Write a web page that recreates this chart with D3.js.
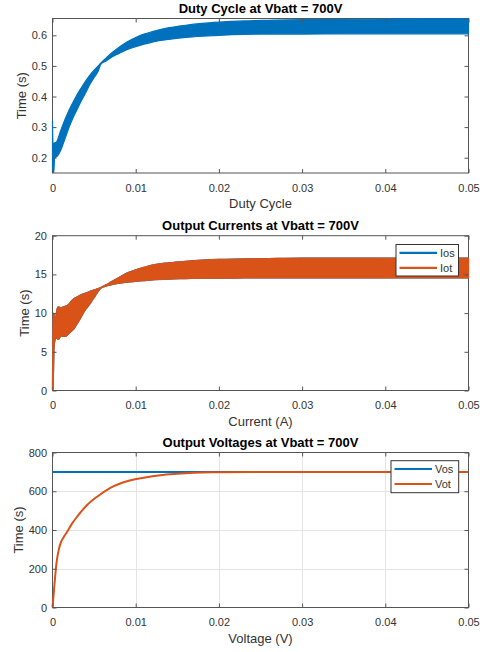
<!DOCTYPE html>
<html>
<head>
<meta charset="utf-8">
<script src="https://cdn.jsdelivr.net/npm/d3@7"></script>
<style>
  body { margin: 0; background: #fff; }
  svg { display: block; }
  text { font-family: "Liberation Sans", Arial, Helvetica, sans-serif; }
</style>
</head>
<body>
<svg id="chart" width="480" height="652"></svg>
<script>
// ---- shared time axis ----
const xTicks = [0, 0.01, 0.02, 0.03, 0.04, 0.05];

// ---- duty cycle (ripple envelope) ----
const dutyTime  = [0, 0.00005, 0.00015, 0.00025, 0.0005, 0.001, 0.0015, 0.002, 0.0025, 0.003, 0.0035, 0.004, 0.0045, 0.005, 0.0055, 0.0058, 0.0065, 0.007, 0.008, 0.009, 0.010, 0.011, 0.012, 0.014, 0.016, 0.018, 0.020, 0.023, 0.026, 0.030, 0.035, 0.040, 0.045, 0.050];
const dutyUpper = [0.32, 0.25, 0.245, 0.248, 0.252, 0.29, 0.325, 0.356, 0.383, 0.408, 0.430, 0.451, 0.470, 0.486, 0.500, 0.509, 0.527, 0.540, 0.561, 0.579, 0.593, 0.604, 0.612, 0.625, 0.633, 0.639, 0.643, 0.647, 0.649, 0.651, 0.652, 0.653, 0.654, 0.654];
const dutyLower = [0.15, 0.17, 0.15, 0.200, 0.203, 0.225, 0.262, 0.300, 0.332, 0.360, 0.388, 0.413, 0.440, 0.462, 0.483, 0.505, 0.517, 0.527, 0.541, 0.554, 0.563, 0.571, 0.578, 0.587, 0.593, 0.597, 0.600, 0.603, 0.604, 0.604, 0.605, 0.605, 0.605, 0.605];
const dutyTicks = [0.2, 0.3, 0.4, 0.5, 0.6];

// ---- output currents (ripple envelope) ----
const currentTime = [0, 0.00005, 0.0002, 0.0003, 0.0005, 0.0007, 0.001, 0.0013, 0.0016, 0.002, 0.0023, 0.0026, 0.003, 0.0033, 0.0037, 0.004, 0.0045, 0.005, 0.0053, 0.0058, 0.0065, 0.007, 0.008, 0.009, 0.010, 0.011, 0.012, 0.014, 0.016, 0.018, 0.020, 0.023, 0.026, 0.030, 0.035, 0.040, 0.045, 0.050];
const iotUpper = [0, 10.0, 9.8, 8.8, 10.3, 10.8, 10.7, 10.8, 10.9, 11.2, 11.6, 11.9, 12.1, 12.3, 12.5, 12.6, 12.8, 13.0, 13.1, 13.3, 13.7, 14.0, 14.6, 15.2, 15.6, 15.9, 16.2, 16.5, 16.7, 16.85, 16.95, 17.0, 17.05, 17.1, 17.1, 17.1, 17.1, 17.1];
const iotLower = [0, 0, 5.8, 6.5, 6.8, 6.6, 7.0, 7.0, 7.0, 7.4, 7.7, 8.0, 8.7, 9.2, 10.0, 10.5, 11.2, 12.0, 12.5, 13.2, 13.5, 13.65, 13.85, 14.0, 14.1, 14.2, 14.3, 14.4, 14.45, 14.5, 14.5, 14.55, 14.55, 14.55, 14.55, 14.55, 14.55, 14.55];
// Ios follows Iot over the whole run and is drawn underneath it
const iosUpper = iotUpper;
const iosLower = iotLower;
const currentTicks = [0, 5, 10, 15, 20];

// ---- output voltages ----
const vosTime = [0, 0.05];
const vos = [700, 700];
const votTime = [0, 0.00024, 0.00048, 0.00076, 0.001, 0.0013, 0.00176, 0.00236, 0.00296, 0.00416, 0.00536, 0.00696, 0.00896, 0.01096, 0.01296, 0.01496, 0.01696, 0.02, 0.025, 0.03, 0.04, 0.05];
const vot = [0, 120, 230, 300, 335, 360, 391, 434, 469, 529, 572, 618, 652, 670, 683, 690, 695, 698, 700, 700, 700, 700];
const voltageTicks = [0, 200, 400, 600, 800];

// ---- layout ----
const BLUE = "#0072BD", ORANGE = "#D95319";
const AXIS = "#555", TEXT = "#333";
const left = 52.5, right = 468.5;
const svg = d3.select("#chart");
svg.append("rect").attr("width", 480).attr("height", 652).attr("fill", "#fff");

const x = d3.scaleLinear().domain([0, 0.05]).range([left, right]);

function panel(cfg) {
  const y = d3.scaleLinear().domain(cfg.yDomain).range([cfg.bottom, cfg.top]);
  const g = svg.append("g");
  const id = "clip" + cfg.key;
  // traces may sit on the frame line itself, so the clip reaches a little past it
  g.append("clipPath").attr("id", id).append("rect")
    .attr("x", left - 1.5).attr("y", cfg.top - 1.5)
    .attr("width", right - left + 3).attr("height", cfg.bottom - cfg.top + 1.5);

  if (cfg.grid) {
    const gg = g.append("g").attr("stroke", "#e4e4e4").attr("stroke-width", 1);
    xTicks.slice(1, -1).forEach(t => gg.append("line")
      .attr("x1", Math.round(x(t)) + 0.5).attr("x2", Math.round(x(t)) + 0.5)
      .attr("y1", cfg.top).attr("y2", cfg.bottom));
    cfg.yTicks.slice(1, -1).forEach(v => gg.append("line")
      .attr("x1", left).attr("x2", right)
      .attr("y1", Math.round(y(v)) + 0.5).attr("y2", Math.round(y(v)) + 0.5));
  }

  // frame first, traces drawn over it
  g.append("rect").attr("x", left).attr("y", cfg.top)
    .attr("width", right - left).attr("height", cfg.bottom - cfg.top)
    .attr("fill", "none").attr("stroke", AXIS).attr("stroke-width", 1);

  const plot = g.append("g").attr("clip-path", `url(#${id})`);
  cfg.draw(plot, y);

  // axes with inward ticks on all four sides
  const fmtX = d => d === 0 ? "0" : d3.format(".2f")(d);
  g.append("g").attr("transform", `translate(0,${cfg.bottom})`)
    .call(d3.axisBottom(x).tickValues(xTicks).tickFormat(fmtX).tickSizeInner(-4).tickSizeOuter(0).tickPadding(11));
  g.append("g").attr("transform", `translate(0,${cfg.top})`)
    .call(d3.axisTop(x).tickValues(xTicks).tickFormat("").tickSizeInner(-4).tickSizeOuter(0));
  const ay = g.append("g").attr("transform", `translate(${left},0)`)
    .call(d3.axisLeft(y).tickValues(cfg.yTicks).tickFormat(cfg.yFmt).tickSizeInner(-4).tickSizeOuter(0).tickPadding(5.5));
  g.append("g").attr("transform", `translate(${right},0)`)
    .call(d3.axisRight(y).tickValues(cfg.yTicks).tickFormat("").tickSizeInner(-4).tickSizeOuter(0));
  g.selectAll(".domain").remove();
  g.selectAll(".tick line").attr("stroke", AXIS);
  g.selectAll(".tick text").attr("fill", TEXT).style("font-size", "11px");

  // title
  g.append("text").attr("x", (left + right) / 2).attr("y", cfg.top - 5.7)
    .attr("text-anchor", "middle").attr("fill", "#000")
    .style("font-size", "13px").style("font-weight", "bold").text(cfg.title);
  // x label
  g.append("text").attr("x", (left + right) / 2).attr("y", cfg.bottom + 35)
    .attr("text-anchor", "middle").attr("fill", TEXT)
    .style("font-size", "13px").text(cfg.xLabel);
  // y label, placed just outside the widest tick label
  let maxW = 0;
  ay.selectAll(".tick text").each(function () { maxW = Math.max(maxW, this.getComputedTextLength()); });
  const yl = left - 5.5 - maxW - 10.7 + 4.6;
  g.append("text").attr("transform", `translate(${yl},${(cfg.top + cfg.bottom) / 2}) rotate(-90)`)
    .attr("text-anchor", "middle").attr("fill", TEXT)
    .style("font-size", "13px").text(cfg.yLabel);

  if (cfg.legend) {
    const L = cfg.legend;
    const lg = g.append("g");
    lg.append("rect").attr("x", L.x).attr("y", L.y).attr("width", L.w).attr("height", L.h)
      .attr("fill", "#fff").attr("stroke", "#333").attr("stroke-width", 1);
    L.items.forEach((it, i) => {
      const cy = L.y + 8.3 + i * 15;
      lg.append("line").attr("x1", L.x + 3.5).attr("x2", L.x + 3.5 + L.len)
        .attr("y1", cy).attr("y2", cy).attr("stroke", it.color).attr("stroke-width", 2.2);
      lg.append("text").attr("x", L.x + L.len + 6.5).attr("y", cy).attr("dy", "0.35em")
        .attr("fill", TEXT).style("font-size", "11px").text(it.label);
    });
  }
}

function band(plot, y, tArr, upArr, loArr, color) {
  const rows = tArr.map((t, i) => ({ t, hi: upArr[i], lo: loArr[i] }));
  const area = d3.area().x(d => x(d.t)).y0(d => y(d.lo)).y1(d => y(d.hi)).curve(d3.curveMonotoneX);
  plot.append("path").datum(rows).attr("d", area)
    .attr("fill", color).attr("stroke", color).attr("stroke-width", 1.2).attr("stroke-linejoin", "round");
}

function trace(plot, y, tArr, vArr, color) {
  const rows = tArr.map((t, i) => ({ t, v: vArr[i] }));
  const line = d3.line().x(d => x(d.t)).y(d => y(d.v)).curve(d3.curveMonotoneX);
  plot.append("path").datum(rows).attr("d", line)
    .attr("fill", "none").attr("stroke", color).attr("stroke-width", 2).attr("stroke-linejoin", "round");
}

panel({
  key: 1, top: 18.5, bottom: 173, yDomain: [0.15, 0.655], yTicks: dutyTicks,
  yFmt: d3.format(".1f"),
  title: "Duty Cycle at Vbatt = 700V", xLabel: "Duty Cycle", yLabel: "Time (s)",
  draw: (p, y) => band(p, y, dutyTime, dutyUpper, dutyLower, BLUE)
});

panel({
  key: 2, top: 235.7, bottom: 390.5, yDomain: [0, 20], yTicks: currentTicks,
  yFmt: d3.format("d"),
  title: "Output Currents at Vbatt = 700V", xLabel: "Current (A)", yLabel: "Time (s)",
  draw: (p, y) => {
    band(p, y, currentTime, iosUpper, iosLower, BLUE);
    band(p, y, currentTime, iotUpper, iotLower, ORANGE);
  },
  legend: { x: 396, y: 244.5, w: 62.5, h: 31.5, len: 37.5,
    items: [{ label: "Ios", color: BLUE }, { label: "Iot", color: ORANGE }] }
});

panel({
  key: 3, top: 452.5, bottom: 607.5, yDomain: [0, 800], yTicks: voltageTicks,
  yFmt: d3.format("d"), grid: true,
  title: "Output Voltages at Vbatt = 700V", xLabel: "Voltage (V)", yLabel: "Time (s)",
  draw: (p, y) => {
    trace(p, y, vosTime, vos, BLUE);
    trace(p, y, votTime, vot, ORANGE);
  },
  legend: { x: 391, y: 460.7, w: 67.7, h: 32, len: 37.5,
    items: [{ label: "Vos", color: BLUE }, { label: "Vot", color: ORANGE }] }
});
</script>
</body>
</html>
